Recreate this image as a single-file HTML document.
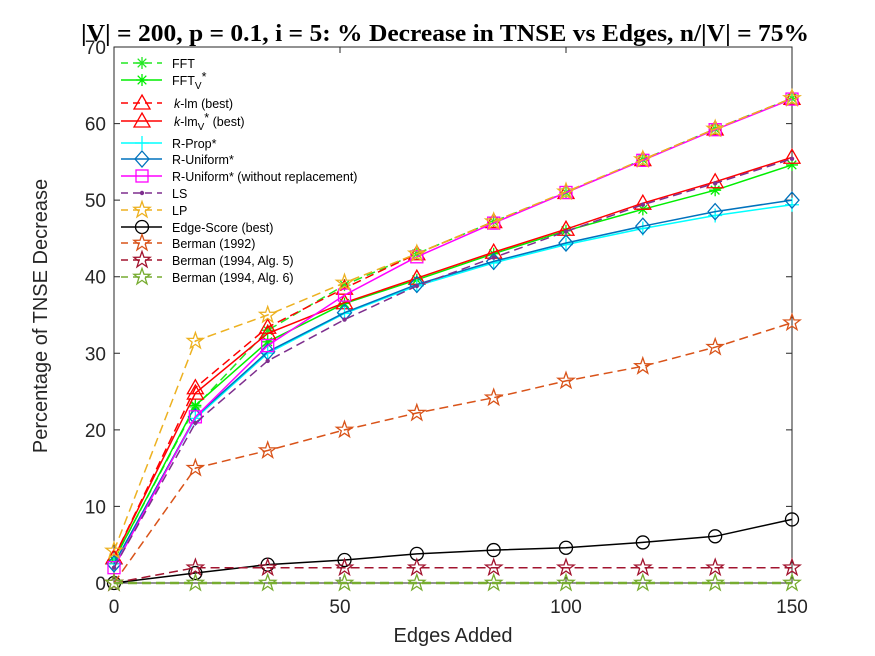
<!DOCTYPE html>
<html><head><meta charset="utf-8">
<style>
html,body{margin:0;padding:0;background:#fff;}
svg{display:block;font-family:"Liberation Sans",sans-serif;}
</style></head>
<body>
<svg id="chart" width="875" height="656">
<rect x="0" y="0" width="875" height="656" fill="#fff"/>
<text x="445" y="41" text-anchor="middle" font-family="Liberation Serif, serif" font-weight="bold" font-size="24" textLength="728" lengthAdjust="spacingAndGlyphs" fill="#000">|V| = 200, p = 0.1, i = 5: % Decrease in TNSE vs Edges, n/|V| = 75%</text>
<g id="axes"></g>
<g id="series"></g>
<g id="legend"></g>
<text x="453" y="642" text-anchor="middle" font-size="20" fill="#262626">Edges Added</text>
<text transform="translate(47,316) rotate(-90)" text-anchor="middle" font-size="20" fill="#262626">Percentage of TNSE Decrease</text>
</svg>
<script>
const xs = [0, 18, 34, 51, 67, 84, 100, 117, 133, 150];
const xTicks = [0, 50, 100, 150];
const yTicks = [0, 10, 20, 30, 40, 50, 60, 70];
const fft = [3, 23, 33, 38.9, 43, 47.2, 51, 55.3, 59.3, 63.3];
const fftV = [3, 23.2, 31.5, 36.5, 39.6, 43, 46, 48.8, 51.3, 54.6];
const klm = [3.3, 25.5, 33.4, 38.5, 43, 47.2, 51, 55.3, 59.3, 63.3];
const klmV = [3.3, 24.8, 32.6, 36.6, 39.8, 43.2, 46.2, 49.6, 52.4, 55.6];
const rProp = [2.5, 21.5, 30, 35.2, 38.8, 41.8, 44.2, 46.3, 48, 49.4];
const rUni = [2.5, 21.7, 30.2, 35.3, 39, 42, 44.4, 46.6, 48.5, 50];
const rUniWo = [2, 21.7, 31, 37.6, 42.6, 47, 51, 55.2, 59.2, 63.2];
const ls = [2, 20.9, 29, 34.4, 38.8, 42.5, 45.9, 49.4, 52.2, 55.4];
const lp = [4.2, 31.6, 35, 39.2, 43, 47.2, 51.1, 55.3, 59.3, 63.3];
const edge = [0, 1.3, 2.4, 3, 3.8, 4.3, 4.6, 5.3, 6.1, 8.3];
const b92 = [0, 15, 17.3, 20, 22.2, 24.2, 26.4, 28.3, 30.8, 34];
const b94a5 = [0, 2, 2, 2, 2, 2, 2, 2, 2, 2];
const b94a6 = [0, 0, 0, 0, 0, 0, 0, 0, 0, 0];

const NS = "http://www.w3.org/2000/svg";
const L = 114, R = 792, T = 47, B = 583;
const X = v => L + (v - 0) / 150 * (R - L);
const Y = v => B - (v - 0) / 70 * (B - T);
function mk(tag, attrs, parent) {
  const e = document.createElementNS(NS, tag);
  for (const k in attrs) e.setAttribute(k, attrs[k]);
  parent.appendChild(e);
  return e;
}
const axes = document.getElementById('axes');
const frame = mk('rect', {x: L, y: T, width: R - L, height: B - T, fill: 'none', stroke: '#262626', 'stroke-width': 1}, axes);


xTicks.forEach(t => {
  const x = X(t);
  const tk = mk('path', {d: `M${x},${B}v-6M${x},${T}v6`, stroke: '#262626'}, axes);
  
  
  const lb = mk('text', {x: x, y: B + 30, 'text-anchor': 'middle', 'font-size': 19, fill: '#262626'}, axes);
  lb.textContent = t;
  
  
});
yTicks.forEach(t => {
  const y = Y(t);
  const tk = mk('path', {d: `M${L},${y}h6M${R},${y}h-6`, stroke: '#262626'}, axes);
  
  
  const lb = mk('text', {x: L - 8, y: y + 7, 'text-anchor': 'end', 'font-size': 19, fill: '#262626'}, axes);
  lb.textContent = t;
  
  
});

function star(cx, cy, r) {
  let p = [];
  for (let i = 0; i < 10; i++) {
    const a = -Math.PI / 2 + i * Math.PI / 5;
    const rr = i % 2 ? r * 0.4 : r;
    p.push((cx + rr * Math.cos(a)).toFixed(1) + ',' + (cy + rr * Math.sin(a)).toFixed(1));
  }
  return p.join(' ');
}
function marker(g, type, cx, cy, color) {
  let e;
  const s = {fill: 'none', stroke: color, 'stroke-width': 1.3};
  if (type === 'ast') e = mk('path', Object.assign({d: `M${cx-6},${cy}h12M${cx},${cy-6}v12M${cx-4.3},${cy-4.3}l8.6,8.6M${cx-4.3},${cy+4.3}l8.6,-8.6`}, s), g);
  else if (type === 'tri') e = mk('polygon', Object.assign({points: `${cx},${cy-8} ${cx+8},${cy+6} ${cx-8},${cy+6}`}, s), g);
  else if (type === 'plus') e = mk('path', Object.assign({d: `M${cx-7},${cy}h14M${cx},${cy-7}v14`}, s), g);
  else if (type === 'dia') e = mk('polygon', Object.assign({points: `${cx},${cy-8} ${cx+7},${cy} ${cx},${cy+8} ${cx-7},${cy}`}, s), g);
  else if (type === 'sq') e = mk('rect', Object.assign({x: cx-6, y: cy-6, width: 12, height: 12}, s), g);
  else if (type === 'dot') e = mk('circle', {cx: cx, cy: cy, r: 2.2, fill: color}, g);
  else if (type === 'star') e = mk('polygon', Object.assign({points: star(cx, cy, 8.5)}, s), g);
  else if (type === 'circ') e = mk('circle', Object.assign({cx: cx, cy: cy, r: 6.5}, s), g);
  
  
}
const series = [
  {name: 'FFT', label: 'FFT', data: fft, color: '#22e822', dash: true, m: 'ast'},
  {name: 'FFT-V', label: 'FFT<tspan font-size="10" dy="4">V</tspan><tspan dy="-8">*</tspan>', data: fftV, color: '#00ee00', dash: false, m: 'ast'},
  {name: 'k-lm', label: '<tspan font-style="italic">k</tspan>-lm (best)', data: klm, color: '#ff0000', dash: true, m: 'tri'},
  {name: 'k-lm-V', label: '<tspan font-style="italic">k</tspan>-lm<tspan font-size="10" dy="4">V</tspan><tspan dy="-8">*</tspan><tspan dy="4"> (best)</tspan>', data: klmV, color: '#ff0000', dash: false, m: 'tri'},
  {name: 'R-Prop', label: 'R-Prop*', data: rProp, color: '#00ffff', dash: false, m: 'plus'},
  {name: 'R-Uniform', label: 'R-Uniform*', data: rUni, color: '#0072bd', dash: false, m: 'dia'},
  {name: 'R-Uniform-wo', label: 'R-Uniform* (without replacement)', data: rUniWo, color: '#ff00ff', dash: false, m: 'sq'},
  {name: 'LS', label: 'LS', data: ls, color: '#7e2f8e', dash: true, m: 'dot'},
  {name: 'LP', label: 'LP', data: lp, color: '#edb120', dash: true, m: 'star'},
  {name: 'Edge-Score', label: 'Edge-Score (best)', data: edge, color: '#000000', dash: false, m: 'circ'},
  {name: 'Berman-1992', label: 'Berman (1992)', data: b92, color: '#d95319', dash: true, m: 'star'},
  {name: 'Berman-1994-5', label: 'Berman (1994, Alg. 5)', data: b94a5, color: '#a2142f', dash: true, m: 'star'},
  {name: 'Berman-1994-6', label: 'Berman (1994, Alg. 6)', data: b94a6, color: '#77ac30', dash: true, m: 'star'}
];
const sg = document.getElementById('series');
series.forEach(s => {
  const g = mk('g', {}, sg);
  
  
  const d = s.data.map((v, i) => (i ? 'L' : 'M') + X(xs[i]).toFixed(1) + ',' + Y(v).toFixed(1)).join('');
  const ln = mk('path', {d: d, fill: 'none', stroke: s.color, 'stroke-width': s.name === 'Berman-1994-6' ? 2.5 : 1.5, 'stroke-dasharray': s.dash ? '9,5' : 'none'}, g);
  
  
  s.data.forEach((v, i) => marker(g, s.m, X(xs[i]), Y(v), s.color));
});
const lg = document.getElementById('legend');
const ys = [63, 80, 103, 121, 143, 159, 176, 193, 210, 227, 243, 260, 277];
series.forEach((s, i) => {
  const g = mk('g', {}, lg);
  
  
  const y = ys[i];
  const ln = mk('path', {d: `M121,${y}H162`, stroke: s.color, 'stroke-width': 1.5, 'stroke-dasharray': s.dash ? '7,5' : 'none'}, g);
  
  
  marker(g, s.m, 142, y, s.color);
  const t = mk('text', {x: (i === 2 || i === 3) ? 174 : 172, y: y + 5, 'font-size': 12.5, fill: '#000'}, g);
  t.innerHTML = s.label;
  
  
});
</script>
</body></html>
